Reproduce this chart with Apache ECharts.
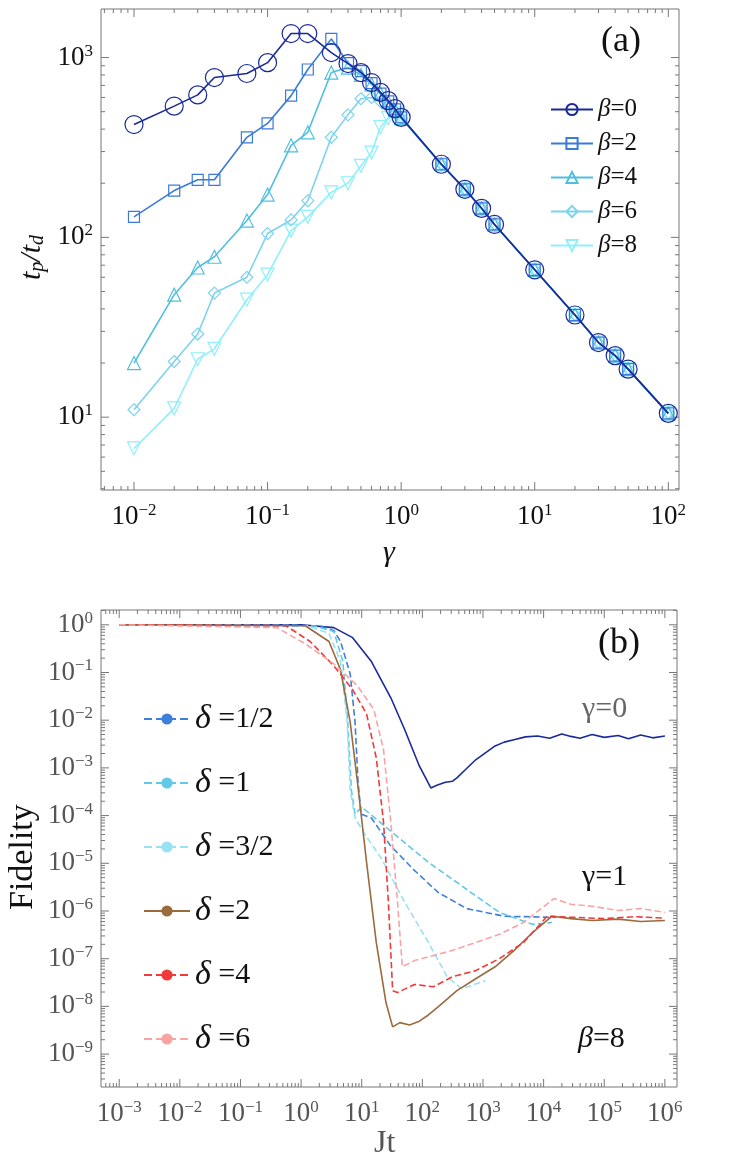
<!DOCTYPE html>
<html>
<head>
<meta charset="UTF-8">
<script src="https://cdn.jsdelivr.net/npm/echarts@6/dist/echarts.min.js"></script>
</head>
<body style="margin:0;background:#fff">
<div id="main" style="width:747px;height:1174px;"></div>
<script>
// panel (a): gamma vs t_p/t_d
var gammaLeft = [0.01, 0.02, 0.03, 0.04, 0.07, 0.1, 0.15, 0.2, 0.3, 0.4, 0.5, 0.6, 0.7, 0.8, 0.9, 1];
var gammaRight = [2, 3, 4, 5, 10, 20, 30, 40, 50, 100];
var tailValues = [255, 185, 145, 118, 66, 37, 26, 22, 18.5, 10.5];
var beta0 = [424, 537, 620, 774, 815, 937, 1360, 1360, 1066, 926, 825, 726, 640, 576, 520, 465];
var beta2 = [130, 182, 209, 209, 360, 430, 614, 858, 1270, 930, 840, 720, 630, 570, 515, 465];
var beta4 = [20, 48, 68, 78, 124, 173, 325, 384, 825, 880, 800, 710, 630, 565, 510, 460];
var beta6 = [11, 20.4, 29, 49, 60, 105, 125, 160, 360, 480, 590, 600, 570, 530, 500, 460];
var beta8 = [6.7, 11.2, 21, 24, 45, 62, 109, 130, 178, 200, 250, 296, 410, 460, 490, 470];

// panel (b): [log10 Jt, log10 Fidelity]
var gamma0 = [[-3,0],[0,0],[0.54,-0.06],[0.85,-0.27],[1.16,-0.77],[1.48,-1.53],[1.71,-2.2],[1.95,-2.96],[2.14,-3.42],[2.25,-3.36],[2.38,-3.3],[2.5,-3.28],[2.57,-3.21],[2.7,-3.05],[2.88,-2.83],[3.0,-2.72],[3.2,-2.54],[3.35,-2.46],[3.51,-2.41],[3.7,-2.35],[3.9,-2.33],[4.1,-2.38],[4.3,-2.29],[4.45,-2.34],[4.6,-2.38],[4.8,-2.3],[5.0,-2.36],[5.23,-2.32],[5.4,-2.39],[5.6,-2.31],[5.8,-2.37],[6,-2.33]];
var delta05 = [[-3,0],[0.3,-0.02],[0.54,-0.12],[0.65,-0.35],[0.81,-1.03],[0.89,-2.04],[0.94,-3.3],[0.99,-3.97],[1.16,-4.05],[1.48,-4.64],[1.87,-5.15],[2.26,-5.61],[2.73,-5.95],[3.35,-6.11],[4.06,-6.13],[4.2,-6.13]];
var delta1 = [[-3,0],[0.2,-0.02],[0.54,-0.14],[0.69,-0.77],[0.77,-2.04],[0.83,-3.47],[0.89,-3.97],[1.0,-3.82],[2.1,-4.98],[3.27,-6.03],[3.82,-6.28],[4.14,-6.24]];
var delta15 = [[-3,0],[0.1,-0.02],[0.46,-0.18],[0.65,-0.77],[0.76,-2.04],[0.81,-3.47],[0.89,-4.05],[1.05,-4.39],[1.32,-4.89],[1.71,-5.82],[2.1,-6.66],[2.41,-7.38],[2.65,-7.63],[3.04,-7.46]];
var delta2 = [[-3,0],[0.07,-0.02],[0.46,-0.35],[0.65,-0.94],[0.81,-2.04],[0.93,-3.3],[1.08,-4.98],[1.24,-6.66],[1.4,-7.92],[1.51,-8.43],[1.63,-8.34],[1.79,-8.39],[1.95,-8.31],[2.1,-8.18],[2.26,-8.01],[2.57,-7.67],[2.88,-7.42],[3.2,-7.17],[3.51,-6.83],[3.82,-6.45],[4.14,-6.11],[4.45,-6.16],[4.8,-6.2],[5.23,-6.17],[5.6,-6.22],[6,-6.2]];
var delta4 = [[-3,0],[-0.25,-0.02],[0.15,-0.35],[0.54,-0.86],[0.85,-1.36],[1.08,-1.87],[1.24,-2.79],[1.36,-4.14],[1.44,-5.82],[1.51,-7.67],[1.59,-7.71],[1.87,-7.54],[2.18,-7.59],[2.49,-7.38],[2.88,-7.25],[3.27,-7.0],[3.67,-6.66],[4.06,-6.11],[4.45,-6.13],[5.0,-6.16],[5.5,-6.12],[6,-6.15]];
var delta6 = [[-3,0],[-0.4,-0.06],[0.07,-0.4],[0.54,-0.82],[0.93,-1.28],[1.2,-1.78],[1.36,-2.62],[1.48,-4.14],[1.59,-5.82],[1.67,-7.17],[1.87,-7.04],[2.49,-6.83],[3.27,-6.49],[3.67,-6.24],[4.17,-5.74],[4.45,-5.86],[4.8,-5.9],[5.23,-5.99],[5.6,-5.95],[6,-6.03]];

var topXMajor = [-2, -1, 0, 1, 2];
var topYMajor = [1, 2, 3];
var botXMajor = [-3, -2, -1, 0, 1, 2, 3, 4, 5, 6];
var botYMajor = [0, -1, -2, -3, -4, -5, -6, -7, -8, -9];

var serif = 'Liberation Serif';
var topRange = {x: [-2.247, 2.08], y: [0.595, 3.27]};
var botRange = {x: [-3.3, 6.2], y: [-9.69, 0.31]};

function minorTicks(lo, hi) {
    var out = [];
    for (var d = Math.floor(lo); d <= Math.ceil(hi); d++) {
        for (var k = 2; k <= 9; k++) {
            var v = d + Math.log10(k);
            if (v > lo && v < hi) out.push(v);
        }
    }
    return out;
}
function powLabel(v) {
    var e = String(Math.round(v)).replace('-', '\u2212');
    return '10{s|' + e + '}';
}
function makeAxis(isX, grid, range, majors, labelColor) {
    return {
        type: 'value', gridIndex: grid, min: range[0], max: range[1],
        axisLine: {show: false}, splitLine: {show: false}, axisTick: {show: false},
        axisLabel: {customValues: majors, formatter: powLabel, showMinLabel: true, showMaxLabel: true,
            fontFamily: serif, fontSize: 27, color: labelColor, margin: isX ? 12 : 8,
            rich: {s: {fontSize: 17, verticalAlign: 'top', padding: [0, 0, 13, 0], fontFamily: serif, color: labelColor}}}
    };
}
// inside log ticks on all four sides, drawn through the axes' coordinate system
function tickSeries(axisIdx, range) {
    var items = [];
    topOrBot(range.x, 'x');
    topOrBot(range.y, 'y');
    function topOrBot(r, dim) {
        var majors = [];
        for (var d = Math.ceil(r[0]); d <= Math.floor(r[1]); d++) majors.push(d);
        majors.forEach(function (v) { items.push([dim === 'x' ? 0 : 1, v, 8]); });
        minorTicks(r[0], r[1]).forEach(function (v) { items.push([dim === 'x' ? 0 : 1, v, 4]); });
    }
    return {
        type: 'custom', xAxisIndex: axisIdx, yAxisIndex: axisIdx, silent: true, clip: false, z: 1,
        data: items,
        renderItem: function (params, api) {
            var isX = api.value(0) === 0, v = api.value(1), len = api.value(2);
            var a, b, s = {stroke: '#777', lineWidth: 1};
            if (isX) {
                a = api.coord([v, range.y[0]]); b = api.coord([v, range.y[1]]);
                return {type: 'group', children: [
                    {type: 'line', shape: {x1: a[0], y1: a[1], x2: a[0], y2: a[1] - len}, style: s},
                    {type: 'line', shape: {x1: b[0], y1: b[1], x2: b[0], y2: b[1] + len}, style: s}]};
            }
            a = api.coord([range.x[0], v]); b = api.coord([range.x[1], v]);
            return {type: 'group', children: [
                {type: 'line', shape: {x1: a[0], y1: a[1], x2: a[0] + len, y2: a[1]}, style: s},
                {type: 'line', shape: {x1: b[0], y1: b[1], x2: b[0] - len, y2: b[1]}, style: s}]};
        }
    };
}

var betaColors = ['#1a2a9a', '#3a7ad8', '#4fbfe0', '#7dd3ee', '#8ff0fa'];
var betaSets = [beta0, beta2, beta4, beta6, beta8];
var betaNames = ['β=0', 'β=2', 'β=4', 'β=6', 'β=8'];
var betaSymbols = ['circle', 'rect', 'triangle', 'diamond', 'path://M0,0 L10,0 L5,9 Z'];
var betaSizes = [18, 11, 13, 12, 13];

var series = [tickSeries(0, topRange), tickSeries(1, botRange)];
betaSets.forEach(function (vals, i) {
    var pts = gammaLeft.map(function (g, j) { return [Math.log10(g), Math.log10(vals[j])]; })
        .concat(gammaRight.map(function (g, j) { return [Math.log10(g), Math.log10(tailValues[j])]; }));
    series.push({
        name: betaNames[i], type: 'line', xAxisIndex: 0, yAxisIndex: 0, data: pts,
        symbol: betaSymbols[i], symbolSize: betaSizes[i], showAllSymbol: true,
        lineStyle: {color: betaColors[i], width: 1.6},
        itemStyle: {color: 'rgba(255,255,255,0)', borderColor: betaColors[i], borderWidth: 1.2},
        z: 10 - i
    });
});

var fidSets = [
    {name: 'δ =1/2', data: delta05, color: '#3f7fdc', dash: 'dashed'},
    {name: 'δ =1', data: delta1, color: '#62c8ea', dash: 'dashed'},
    {name: 'δ =3/2', data: delta15, color: '#98e2f2', dash: 'dashed'},
    {name: 'δ =2', data: delta2, color: '#9a6b3c', dash: 'solid'},
    {name: 'δ =4', data: delta4, color: '#f03a3a', dash: 'dashed'},
    {name: 'δ =6', data: delta6, color: '#f8a4a4', dash: 'dashed'}
];
series.push({
    name: 'γ=0', type: 'line', xAxisIndex: 1, yAxisIndex: 1, data: gamma0, symbol: 'none',
    lineStyle: {color: '#1a2a9a', width: 1.6}
});
fidSets.forEach(function (s) {
    series.push({
        name: s.name, type: 'line', xAxisIndex: 1, yAxisIndex: 1, data: s.data, symbol: 'none',
        lineStyle: {color: s.color, width: 1.6, type: s.dash}, itemStyle: {color: s.color}
    });
});

var myChart = echarts.init(document.getElementById('main'));
myChart.setOption({
    animation: false,
    grid: [
        {left: 101, top: 9, width: 578, height: 481, show: true, borderColor: '#777', borderWidth: 1},
        {left: 101, top: 610, width: 576, height: 477, show: true, borderColor: '#777', borderWidth: 1}
    ],
    xAxis: [makeAxis(true, 0, topRange.x, topXMajor, '#111'), makeAxis(true, 1, botRange.x, botXMajor, '#555')],
    yAxis: [makeAxis(false, 0, topRange.y, topYMajor, '#111'), makeAxis(false, 1, botRange.y, botYMajor, '#555')],
    legend: [
        {type: 'plain', data: betaNames, orient: 'vertical', left: 545, top: 92, itemWidth: 42, itemHeight: 14, itemGap: 9,
         formatter: function (n) { return '{i|β}' + n.slice(1); },
         textStyle: {fontFamily: serif, fontSize: 25, color: '#111', rich: {i: {fontStyle: 'italic', fontFamily: serif, fontSize: 25}}}},
        {type: 'plain', data: fidSets.map(function (s) { return s.name; }), orient: 'vertical', left: 138, top: 697,
         width: 200, height: 380, itemWidth: 46, itemHeight: 14, itemGap: 30,
         formatter: function (n) { return '{i|δ}' + n.slice(1); },
         textStyle: {fontFamily: serif, fontSize: 30, color: '#111', rich: {i: {fontStyle: 'italic', fontFamily: serif, fontSize: 34}}}}
    ],
    graphic: [
        {type: 'text', left: 601, top: 24, style: {text: '(a)', font: '36px "Liberation Serif"', fill: '#111'}},
        {type: 'text', left: 598, top: 626, style: {text: '(b)', font: '36px "Liberation Serif"', fill: '#111'}},
        {type: 'text', left: 383, top: 538, style: {text: 'γ', font: 'italic 30px "Liberation Serif"', fill: '#111'}},
        {type: 'text', left: 374, top: 1128, style: {text: 'Jt', font: '32px "Liberation Serif"', fill: '#555'}},
        {type: 'text', x: 16, y: 280, rotation: Math.PI / 2,
         style: {text: '{i|t}{s|p}{i|/t}{s|d}', font: 'italic 30px "Liberation Serif"', fill: '#111',
            rich: {i: {fontStyle: 'italic', fontSize: 30, fontFamily: serif}, s: {fontStyle: 'italic', fontSize: 20, fontFamily: serif, padding: [12, 0, 0, 0]}}}},
        {type: 'text', x: 6, y: 910, rotation: Math.PI / 2, style: {text: 'Fidelity', font: '34px "Liberation Serif"', fill: '#111'}},
        {type: 'text', left: 582, top: 694, style: {text: 'γ=0', font: '30px "Liberation Serif"', fill: '#666'}},
        {type: 'text', left: 582, top: 862, style: {text: 'γ=1', font: '30px "Liberation Serif"', fill: '#111'}},
        {type: 'text', left: 578, top: 1024, style: {text: '{i|β}=8', font: '30px "Liberation Serif"', fill: '#111',
            rich: {i: {fontStyle: 'italic', fontSize: 30, fontFamily: serif}}}}
    ],
    series: series
});
</script>
</body>
</html>
